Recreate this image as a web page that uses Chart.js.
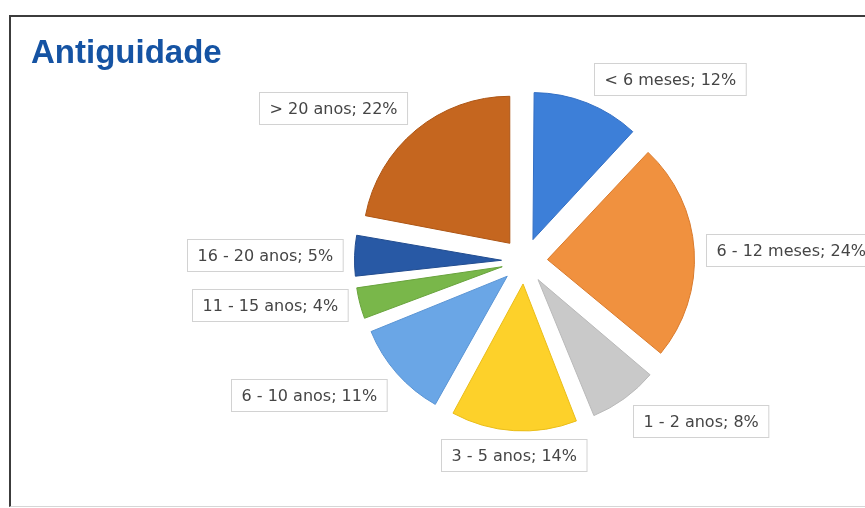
<!DOCTYPE html>
<html>
<head>
<meta charset="utf-8">
<script src="https://cdn.jsdelivr.net/npm/chart.js@4/dist/chart.umd.min.js"></script>
<style>
  html, body { margin: 0; padding: 0; background: #fff; overflow: hidden; }
  #wrap { position: relative; width: 865px; height: 508px; overflow: hidden; }
  #frame { position: absolute; left: 9px; top: 15px; width: 900px; height: 489px;
           border-left: 2px solid #3c3c3c; border-top: 2px solid #3c3c3c; border-bottom: 1px solid #d6d6d6; }
  canvas { position: absolute; left: 0; top: 0; }
</style>
</head>
<body>
<div id="wrap">
  <div id="frame"></div>
  <canvas id="chart" width="865" height="508"></canvas>
</div>
<script>
var titulo = "Antiguidade";
var categorias = ["< 6 meses", "6 - 12 meses", "1 - 2 anos", "3 - 5 anos", "6 - 10 anos", "11 - 15 anos", "16 - 20 anos", "> 20 anos"];
var percentagens = [12, 24, 8, 14, 11, 4, 5, 22];
var cores = ["#3d7fd8", "#f0913f", "#c9c9c9", "#fdd12a", "#6aa6e6", "#79b74a", "#2859a5", "#c5661f"];
var bordas = ["#336fc4", "#d97a2c", "#b9b9b9", "#eabd18", "#5b95d4", "#68a33c", "#214c8f", "#ad5514"];

var raio = 147;      // raio da tarte
var explosao = 92;   // chart.js desloca offset/4 px

// o chart.js aumenta o raio das fatias pequenas quando ha offset; repor o raio
var explodir = {
  id: "explodir",
  afterDatasetUpdate: function (chart, args) {
    args.meta.data.forEach(function (arc) {
      var t = explosao / 4;
      var fix = 1 - Math.sin(Math.min(Math.PI, arc.circumference));
      arc.outerRadius = raio - t * fix;
    });
  }
};

var rotulos = {
  id: "rotulos",
  afterDraw: function (chart) {
    var ctx = chart.ctx;
    var meta = chart.getDatasetMeta(0);
    ctx.save();

    // titulo
    ctx.fillStyle = "#1553a3";
    ctx.font = "bold 33px 'Liberation Sans', Arial, sans-serif";
    ctx.textBaseline = "alphabetic";
    ctx.textAlign = "left";
    ctx.fillText(titulo, 31, 63);

    ctx.font = "16px 'DejaVu Sans', sans-serif";
    ctx.textBaseline = "middle";
    meta.data.forEach(function (arc, i) {
      var mid = (arc.startAngle + arc.endAngle) / 2;
      var dx = Math.cos(mid), dy = Math.sin(mid);
      var dist = raio + explosao / 4 + 8;
      var px = arc.x + dx * dist, py = arc.y + dy * dist;
      var txt = categorias[i] + "; " + percentagens[i] + "%";
      var w = ctx.measureText(txt).width + 20, h = 32;
      var left, top;
      if (dx > 0.15) left = px + 4;
      else if (dx < -0.15) left = px - 4 - w;
      else left = px - w / 2;
      if (dy < -0.3) top = py - h;
      else if (dy > 0.3) top = py;
      else top = py - h / 2;
      left = Math.round(left) + 0.5;
      top = Math.round(top) + 0.5;
      ctx.fillStyle = "#ffffff";
      ctx.fillRect(left, top, w, h);
      ctx.strokeStyle = "#d2d2d2";
      ctx.lineWidth = 1;
      ctx.strokeRect(left, top, w, h);
      ctx.fillStyle = "#454545";
      ctx.textAlign = "left";
      ctx.fillText(txt, left + 10, top + h / 2 + 1);
    });
    ctx.restore();
  }
};

var ctx1 = document.getElementById("chart").getContext("2d");
new Chart(ctx1, {
  type: "pie",
  data: {
    labels: categorias,
    datasets: [
      {
        data: percentagens,
        backgroundColor: cores,
        borderColor: bordas,
        borderWidth: 1,
        offset: explosao,
        radius: raio,
      },
    ],
  },
  options: {
    responsive: false,
    devicePixelRatio: 1,
    animation: false,
    events: [],
    layout: { padding: { left: 300, right: 116, top: 61, bottom: 47 } },
    plugins: {
      legend: { display: false },
      tooltip: { enabled: false },
      title: { display: false },
    },
  },
  plugins: [explodir, rotulos],
});
</script>
</body>
</html>
